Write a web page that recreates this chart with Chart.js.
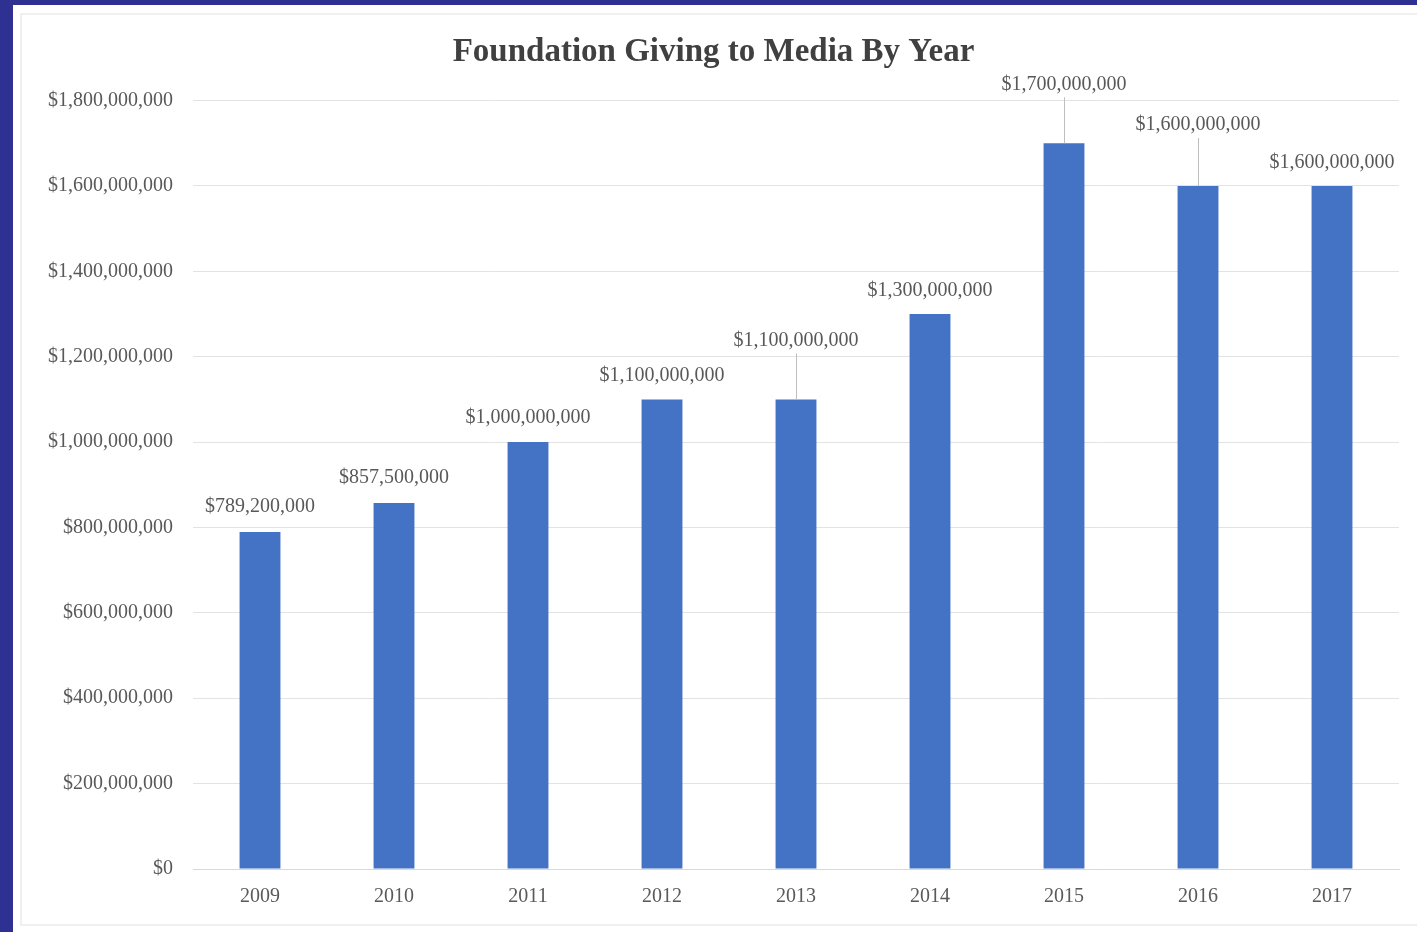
<!DOCTYPE html>
<html>
<head>
<meta charset="utf-8">
<title>Foundation Giving to Media By Year</title>
<script src="https://cdn.jsdelivr.net/npm/chart.js@4/dist/chart.umd.min.js"></script>
<style>
  body { margin: 0; background: #2e3192; width: 1417px; height: 932px; overflow: hidden; position: relative; }
  #panel { position: absolute; left: 13px; top: 5px; right: 0; bottom: 0; background: #fff; }
  #frame { position: absolute; left: 20px; top: 13px; right: 0; bottom: 6px; border: 2px solid #f0f0f0; border-right: none; }
  #chart { position: absolute; left: 0; top: 0; }
</style>
</head>
<body>
<div id="panel"></div>
<div id="frame"></div>
<canvas id="chart" width="1417" height="932"></canvas>
<script>
// Dữ liệu
const years = ["2009", "2010", "2011", "2012", "2013", "2014", "2015", "2016", "2017"];
const giving = [789200000, 857500000, 1000000000, 1100000000, 1100000000, 1300000000, 1700000000, 1600000000, 1600000000];
const yTicks = [0, 200000000, 400000000, 600000000, 800000000, 1000000000, 1200000000, 1400000000, 1600000000, 1800000000];

// how far each value label sits above its bar (px); the big ones get a leader line
const labelLift = [25, 25, 24, 24, 59, 23, 59, 61, 23];

const serif = "'Liberation Serif', 'Times New Roman', serif";

function money(v) {
  return "$" + v.toLocaleString("en-US");
}

const valueLabels = {
  id: "valueLabels",
  afterDatasetsDraw(chart) {
    const ctx = chart.ctx;
    const meta = chart.getDatasetMeta(0);
    ctx.save();
    ctx.font = "20px " + serif;
    ctx.fillStyle = "#595959";
    ctx.textAlign = "center";
    ctx.textBaseline = "middle";
    meta.data.forEach((bar, i) => {
      const y = bar.y - labelLift[i];
      if (labelLift[i] > 40) {
        ctx.strokeStyle = "#bfbfbf";
        ctx.lineWidth = 1;
        ctx.beginPath();
        ctx.moveTo(bar.x + 0.5, bar.y);
        ctx.lineTo(bar.x + 0.5, y + 13);
        ctx.stroke();
      }
      ctx.fillText(money(giving[i]), bar.x, y);
    });
    ctx.restore();
  },
};

const ctx = document.getElementById("chart").getContext("2d");

const givingChart = new Chart(ctx, {
  type: "bar",
  data: {
    labels: years,
    datasets: [
      {
        data: giving,
        backgroundColor: "#4472c4",
        barPercentage: 0.61,
        categoryPercentage: 0.5,
      },
    ],
  },
  plugins: [valueLabels],
  options: {
    responsive: false,
    animation: false,
    layout: {
      padding: { left: 28, right: 18, top: 33, bottom: 15 },
    },
    plugins: {
      legend: { display: false },
      tooltip: { enabled: false },
      title: {
        display: true,
        text: "Foundation Giving to Media By Year",
        color: "#404040",
        font: { family: serif, size: 33, weight: "bold" },
        padding: { top: 0, bottom: 28 },
      },
    },
    scales: {
      x: {
        grid: { display: false },
        border: { display: true, color: "#d9d9d9" },
        ticks: {
          color: "#595959",
          font: { family: serif, size: 20 },
          padding: 8,
        },
      },
      y: {
        min: 0,
        max: 1800000000,
        afterBuildTicks(axis) {
          axis.ticks = yTicks.map((v) => ({ value: v }));
        },
        grid: { color: "#e3e3e3", drawTicks: false },
        border: { display: false },
        ticks: {
          color: "#595959",
          font: { family: serif, size: 20 },
          padding: 20,
          callback: (v) => money(v),
        },
      },
    },
  },
});
</script>
</body>
</html>
